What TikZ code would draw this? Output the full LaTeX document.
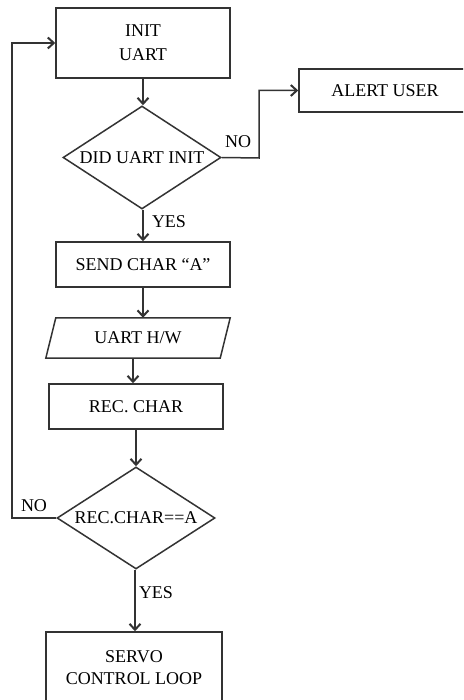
\documentclass[tikz,border=0pt]{standalone}
\usepackage{fontspec}
\setmainfont{Liberation Serif}
\usetikzlibrary{arrows.meta,shapes.geometric,calc}
\begin{document}
\begin{tikzpicture}[x=1pt,y=-1pt,
  every node/.style={font=\fontsize{18}{22}\selectfont, text=black},
  box/.style={draw=black!80, line width=1.5pt, rectangle, inner sep=0pt},
  dec/.style={draw=black!80, line width=1.5pt, diamond, inner sep=0pt, aspect=1.53},
  conn/.style={draw=black!80, line width=1.5pt},
  arr/.style={conn, -{Straight Barb[length=6pt,width=11pt,line width=2pt]}},
  lbl/.style={inner sep=0pt}
]
\clip (0,0) rectangle (463,700);
\fill[white] (0,0) rectangle (463,700);

\node[box, minimum width=174pt, minimum height=70pt, align=center,
      font=\fontsize{18}{24}\selectfont] (init) at (143,43) {INIT\\UART};
\node[dec, minimum width=158pt, minimum height=103pt] (d1) at (142,157.5) {DID UART INIT};
\node[box, minimum width=172pt, minimum height=43pt] (alert) at (385,90.5) {ALERT USER};
\node[box, minimum width=174pt, minimum height=45pt] (send) at (143,264.5) {SEND CHAR “A”};
\node[lbl, minimum width=184pt, minimum height=40pt] (uart) at (138,338) {UART H/W};
\draw[conn] ([xshift=10pt]uart.north west) -- (uart.north east)
  -- ([xshift=-10pt]uart.south east) -- (uart.south west) -- cycle;
\node[box, minimum width=174pt, minimum height=45pt] (rec) at (136,406.5) {REC. CHAR};
\node[dec, minimum width=158pt, minimum height=102pt] (d2) at (136,518) {REC.CHAR==A};
\node[box, minimum width=176pt, minimum height=72pt, align=center] (servo) at (134,668) {SERVO\\CONTROL LOOP};

\coordinate (loopc) at (12,518);
\coordinate (alertc) at (259,158);

\draw[arr] (init.south) -- (d1.north -| init.south);
\draw[arr] (d1.east) -- (alertc) |- (alert.west);
\node[lbl] (nolbl1) at (238,142) {NO};
\draw[arr] (d1.south -| init.south) -- (send.north);
\node[lbl] (yes1) at (169,222) {YES};
\draw[arr] (send.south) -- (send.south |- uart.north);
\draw[arr] ([xshift=-5pt]uart.south) -- ([xshift=-5pt]uart.south |- rec.north);
\draw[arr] (rec.south) -- (d2.north);
\draw[arr] (d2.west) -- (loopc) |- (init.west);
\node[lbl] (nolbl2) at (34,506) {NO};
\draw[arr] ([xshift=-1pt]d2.south) -- ([xshift=-1pt]d2.south |- servo.north);
\node[lbl] (yes2) at (156,593) {YES};
\end{tikzpicture}
\end{document}
